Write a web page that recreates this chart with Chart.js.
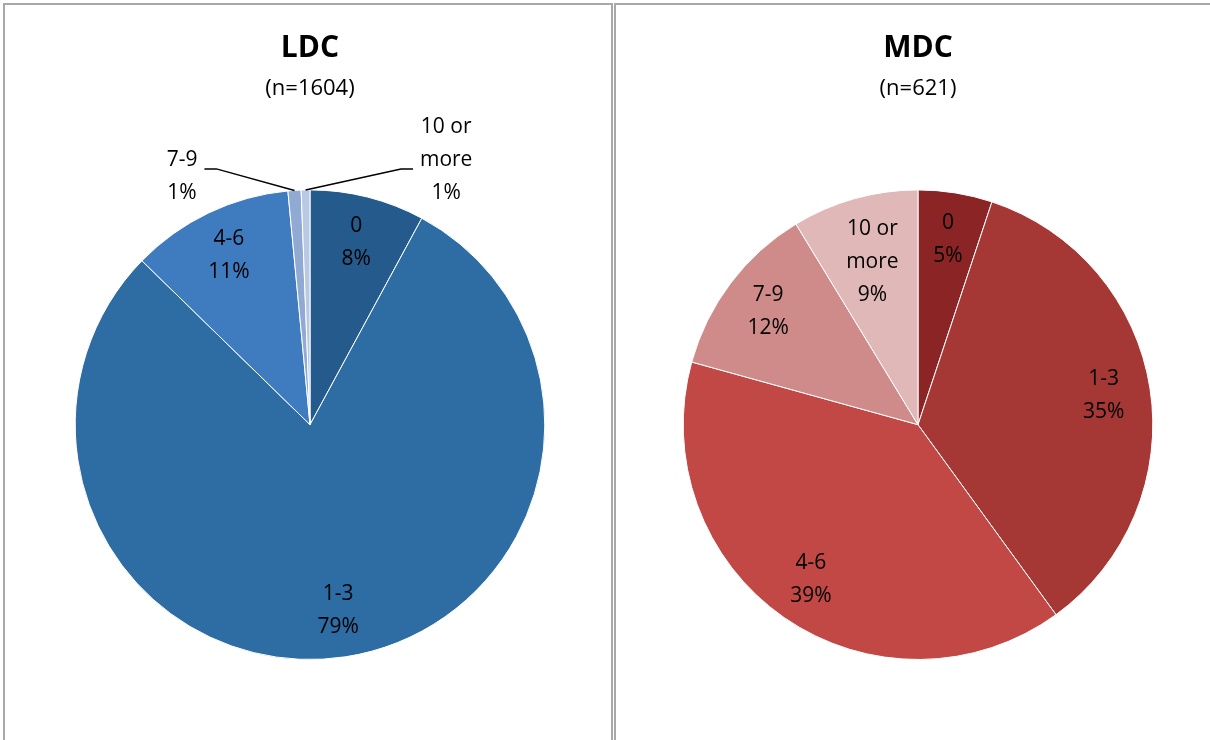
<!DOCTYPE html>
<html>
<head>
<meta charset="utf-8">
<script src="https://cdn.jsdelivr.net/npm/chart.js@4/dist/chart.umd.min.js"></script>
<style>
  html, body { margin: 0; padding: 0; background: #ffffff; width: 1210px; height: 740px; overflow: hidden; }
  .panel { position: absolute; top: 3px; height: 760px; border: 2px solid #a8a8a8; border-bottom: none; box-sizing: border-box; }
  #p1 { left: 3px; width: 610px; }
  #p2 { left: 614px; width: 620px; }
  canvas { position: absolute; top: 0; }
  #c1 { left: 8px; }
  #c2 { left: 616px; }
</style>
</head>
<body>
<div class="panel" id="p1"></div>
<div class="panel" id="p2"></div>
<canvas id="c1" width="604" height="740"></canvas>
<canvas id="c2" width="604" height="740"></canvas>
<script>
// ---- data ----
const categories = ['0', '1-3', '4-6', '7-9', ['10 or', 'more']];
const ldcValues = [7.9, 79.4, 11.2, 0.9, 0.6];
const mdcValues = [5.1, 34.9, 39.3, 12.0, 8.7];
const ldcTitle = 'LDC';
const ldcSubtitle = '(n=1604)';
const mdcTitle = 'MDC';
const mdcSubtitle = '(n=621)';
const ldcColors = ['#245A8C', '#2E6CA4', '#3F7CBF', '#91AAD4', '#B9C9E4'];
const mdcColors = ['#8B2424', '#A53735', '#C14845', '#CF8B89', '#E0B8B7'];

const FONT = "'Open Sans', 'Liberation Sans', sans-serif";

const sliceLabels = {
  id: 'sliceLabels',
  afterDatasetsDraw(chart, args, opts) {
    const ctx = chart.ctx;
    const meta = chart.getDatasetMeta(0);
    const values = chart.data.datasets[0].data;
    const lh = 33;
    ctx.save();
    ctx.font = '21px ' + FONT;
    ctx.fillStyle = '#000000';
    ctx.textAlign = 'center';
    ctx.textBaseline = 'middle';
    let smallIdx = 0;
    meta.data.forEach((arc, i) => {
      const p = arc.getProps(['x', 'y', 'startAngle', 'endAngle', 'outerRadius'], true);
      const mid = (p.startAngle + p.endAngle) / 2;
      const cat = chart.data.labels[i];
      const lines = (Array.isArray(cat) ? cat.slice() : [cat]);
      lines.push(Math.round(values[i]) + '%');
      if (values[i] < 2) {
        // outside label with leader line
        const side = smallIdx === 0 ? -1 : 1;
        smallIdx++;
        const cx = p.x + side * p.outerRadius * (side < 0 ? 0.545 : 0.58);
        const lastY = p.y - p.outerRadius + 3;
        const firstY = lastY - (lines.length - 1) * lh;
        let maxW = 0;
        lines.forEach((t, k) => {
          ctx.fillText(t, cx, firstY + k * lh);
          maxW = Math.max(maxW, ctx.measureText(t).width);
        });
        const ly = lastY - 24;
        const sx = cx - side * (maxW / 2 + 7);
        const hx = sx - side * 12;
        const ax = p.x + Math.cos(mid) * p.outerRadius;
        const ay = p.y + Math.sin(mid) * p.outerRadius;
        ctx.beginPath();
        ctx.strokeStyle = '#000000';
        ctx.lineWidth = 1.5;
        ctx.moveTo(sx, ly);
        ctx.lineTo(hx, ly);
        ctx.lineTo(ax, ay);
        ctx.stroke();
      } else {
        const r = p.outerRadius * (lines.length > 2 ? 0.72 : 0.8);
        const lx = p.x + Math.cos(mid) * r;
        const ly = p.y + Math.sin(mid) * r;
        const y0 = ly - (lines.length - 1) * lh / 2;
        lines.forEach((t, k) => ctx.fillText(t, lx, y0 + k * lh));
      }
    });
    ctx.restore();
  }
};

function makePie(id, values, colors, title, subtitle) {
  return new Chart(document.getElementById(id), {
    type: 'pie',
    data: {
      labels: categories,
      datasets: [{
        data: values,
        backgroundColor: colors,
        borderColor: '#ffffff',
        borderWidth: 1
      }]
    },
    options: {
      responsive: false,
      devicePixelRatio: 1,
      animation: false,
      layout: { padding: { top: 0, bottom: 80, left: 0, right: 0 } },
      plugins: {
        legend: { display: false },
        tooltip: { enabled: false },
        title: {
          display: true,
          text: title,
          color: '#000000',
          font: { family: FONT, size: 30, weight: 'bold', lineHeight: 1.2 },
          padding: { top: 30, bottom: 10 }
        },
        subtitle: {
          display: true,
          text: subtitle,
          color: '#000000',
          font: { family: FONT, size: 22, weight: 'normal', lineHeight: 1.2 },
          padding: { top: 0, bottom: 87 }
        }
      }
    },
    plugins: [sliceLabels]
  });
}

makePie('c1', ldcValues, ldcColors, ldcTitle, ldcSubtitle);
makePie('c2', mdcValues, mdcColors, mdcTitle, mdcSubtitle);
</script>
</body>
</html>
